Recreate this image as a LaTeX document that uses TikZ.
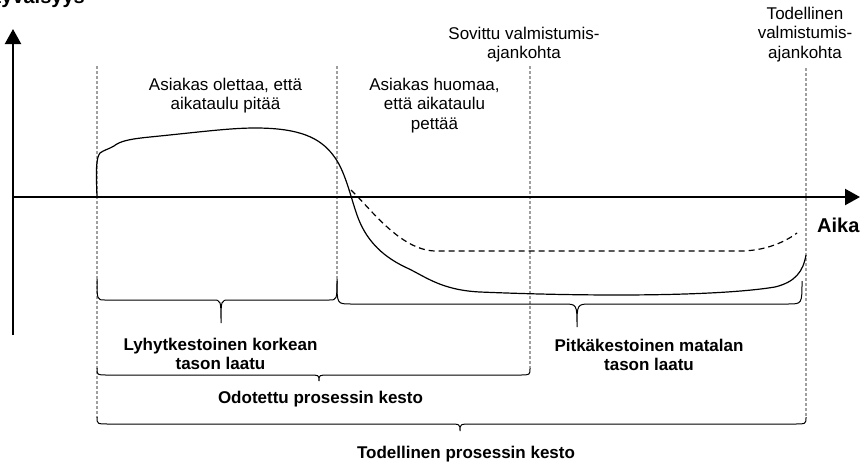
\documentclass[tikz,border=0pt]{standalone}
\usepackage{fontspec}
\setmainfont{Liberation Sans}
\usetikzlibrary{arrows.meta}

% aaltosulje: x1, x2, xkarki, ypaat, yviiva, ykarki, kulma
\newcommand{\sulku}[7]{%
  \draw[kaari] (#1,#4) .. controls (#1,#5) .. ({#1+#7},#5) -- ({#3-#7},#5)
    .. controls (#3,#5) .. (#3,#6) .. controls (#3,#5) .. ({#3+#7},#5)
    -- ({#2-#7},#5) .. controls (#2,#5) .. (#2,#4);}

\begin{document}
\begin{tikzpicture}[x=1pt,y=-1pt,
   >={Triangle[length=15pt,width=16pt]},
   akseli/.style={line width=2.2pt},
   raja/.style={gray!75,line width=1.1pt,dash pattern=on 3pt off 2pt},
   kaari/.style={line width=1pt},
   kayra/.style={line width=1.2pt},
   selite/.style={font=\fontsize{17}{19.3}\selectfont,align=center,inner sep=0pt,anchor=north},
   otsikko/.style={font=\fontsize{17}{19.3}\selectfont\bfseries,align=center,inner sep=0pt,anchor=north},
   akselinimi/.style={font=\fontsize{20}{22}\selectfont\bfseries,inner sep=0pt}]
   \useasboundingbox (0,0) rectangle (866,463);

   \coordinate (o) at (13,197);
   \coordinate (y_ala) at (13,335);
   \coordinate (y_yla) at (13,29);
   \coordinate (x_oik) at (860,197);

   \foreach \x/\yt/\yb in {97/66/418, 337/66/281, 530/66/368, 806/68/416}
      \draw[raja] (\x,\yt) -- (\x,\yb);

   \draw[akseli,->] (y_ala) -- (y_yla);
   \draw[akseli,->] (o) -- (x_oik);

   \draw[kayra] (97,197) .. controls (96,170) and (96,158) .. (100,153)
      .. controls (104,150) and (109,149) .. (114,146)
      .. controls (120,141) and (130,139) .. (150,137)
      .. controls (200,132) and (230,128) .. (255,128)
      .. controls (300,128) and (320,138) .. (333,155)
      .. controls (345,170) and (350,195) .. (357,215)
      .. controls (365,238) and (380,255) .. (405,267)
      .. controls (425,276) and (440,290) .. (480,292)
      .. controls (600,297) and (720,296) .. (775,287)
      .. controls (795,282) and (803,272) .. (806,255);
   \draw[kayra,dash pattern=on 6pt off 4pt] (351,190)
      .. controls (370,208) and (400,250) .. (435,251) -- (740,251)
      .. controls (765,251) and (785,242) .. (797,233);

   \sulku{97}{337}{221}{279}{300}{323}{8}
   \sulku{337}{802}{577}{281}{304}{327}{14}
   \sulku{97}{530}{319}{368}{375}{381}{10}
   \sulku{97}{806}{460}{417}{424}{431}{12}

   \node[akselinimi,anchor=base east] (tyytyvaisyys) at (85,4) {Tyytyväisyys};
   \node[akselinimi,anchor=base west] (aika) at (817,232) {Aika};

   \node[selite] (oletus) at (225.5,78) {Asiakas olettaa, että\\aikataulu pitää};
   \node[selite] (huomaus) at (434.5,78) {Asiakas huomaa,\\että aikataulu\\pettää};
   \node[selite] (sovittu) at (524,26.5) {Sovittu valmistumis-\\ajankohta};
   \node[selite] (todellinen) at (805,7) {Todellinen\\valmistumis-\\ajankohta};

   \node[otsikko] (lyhyt) at (220.5,337.5) {Lyhytkestoinen korkean\\tason laatu};
   \node[otsikko] (pitka) at (649,339) {Pitkäkestoinen matalan\\tason laatu};
   \node[otsikko,anchor=base] (odotettu) at (320.5,403.3) {Odotettu prosessin kesto};
   \node[otsikko,anchor=base] (kesto) at (466,458.3) {Todellinen prosessin kesto};
\end{tikzpicture}
\end{document}
